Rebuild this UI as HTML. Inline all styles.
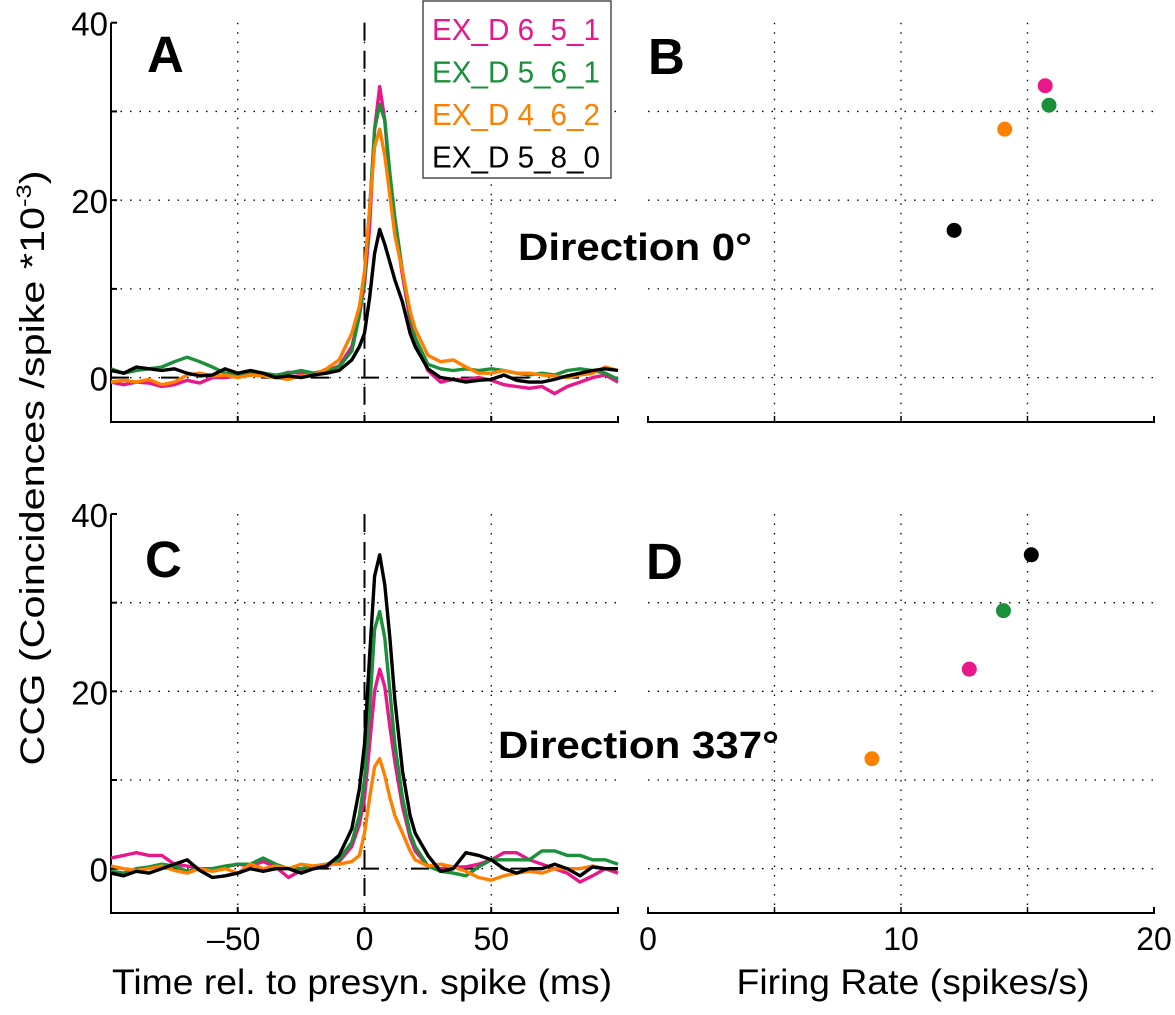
<!DOCTYPE html>
<html><head><meta charset="utf-8"><style>
body{margin:0;background:#fff}
svg{display:block;font-family:"Liberation Sans",Arial,sans-serif}
</style></head><body>
<svg id="fig" width="1175" height="1015" viewBox="0 0 1175 1015" xmlns="http://www.w3.org/2000/svg"></svg>
<script>
const times=[-100,-95,-90,-85,-80,-75,-70,-65,-60,-55,-50,-45,-40,-35,-30,-25,-20,-15,-10,-5,-2,0,2,4,6,8,10,12,15,18,20,25,30,35,40,45,50,55,60,65,70,75,80,85,90,95,100];
const seriesNames=["EX_D 6_5_1","EX_D 5_6_1","EX_D 4_6_2","EX_D 5_8_0"];
const seriesColors=["#e8178a","#1b8f3a","#ff8000","#000000"];
const aPink=[-0.5,-0.8,-0.5,-0.6,-1,-0.8,-0.3,-0.6,0,0,0.2,0.3,0.5,0.2,0.6,0.5,0.5,0.8,1.3,3.5,7,10.5,17,28,32.8,29,22,17,11.5,6.5,4.2,0.8,-0.5,-0.2,-0.2,0,-0.3,-0.8,-1,-1.2,-1,-1.8,-1,-0.5,0,0.3,-0.5];
const aGreen=[1,0.5,0.8,1,1.2,1.8,2.3,1.8,1.2,0.5,0.5,0.5,0.5,0.3,0.5,0.8,0.5,0.8,1.2,3,7,11,19,28,30.8,29,23,18,12,7,4.5,1.5,1,0.8,1,0.8,1,0.8,0.5,0.3,0.5,0.3,0.8,1,0.8,0.5,-0.2];
const aOrange=[-0.5,-0.3,-0.5,-0.2,-0.8,-0.5,0.3,0.5,0.2,0.3,0,0.3,0.2,0,-0.2,0.2,0.3,1,2,5,8,12,19,26,28,25,20.5,16,12,7.5,5.5,2.5,1.8,2,1.2,0.5,0.5,0.8,0.5,0.5,0.3,0.2,0,0.3,0.5,1.2,0.8];
const aBlack=[0.8,0.5,1.2,1,0.8,1,0.5,0.2,0.3,1,0.5,0.8,0.5,0,0.2,0,0.3,0.5,0.8,2,3.5,5,9,14,16.7,15,13,11,8.5,5,3.5,1,0,-0.2,-0.5,-0.3,-0.2,0.3,-0.3,-0.5,-0.5,-0.2,0.2,0.5,0.8,1,0.8];
const cPink=[1.2,1.5,1.8,1.5,1.5,0.5,0.3,0,0,0.2,0.5,0.3,0.8,0.2,-1,-0.2,0,0.3,0.8,2.5,5,8,14,20,22.5,20.5,16,12,7,3.5,2,0.3,0,0.2,0.2,0.5,1,1.8,1.8,1,0.5,0,-0.5,-1.5,-0.8,0,-0.5];
const cGreen=[-0.3,-0.5,0,0.2,0.5,0.3,-0.3,0,0,0.3,0.5,0.5,1.2,0.5,0,0,0.3,0.5,1,3,6,10,18,27,29,26,20,14,8,4,2.5,0.3,-0.3,-0.5,-0.8,0.2,1,1,1,1,2,2,1.5,1.5,1,1,0.5];
const cOrange=[0.3,0,-0.2,0,0.3,-0.2,-0.5,0,-0.3,0,-0.5,0.5,0,0.3,0,0.5,0.3,0.5,0.5,0.8,1.5,4,8,11.5,12.4,10.5,8,6,4,2,1,0.3,0.5,0.2,-0.3,-1,-1.3,-0.8,-0.5,-0.3,-0.5,0,0,0,0.3,0,0];
const cBlack=[-0.5,-0.8,-0.3,-0.5,0,0.5,1,-0.2,-1,-0.8,-0.5,0,-0.3,0,0,-0.5,0,0.3,1.5,4.5,9,14,24,33,35.4,32,26,19,11,6,4,1.5,-0.3,0,1.8,1.5,1,0,-0.5,0,0,0.5,0,-0.8,0.2,0,0];
const bRates=[15.7,15.85,14.1,12.1];
const bPeaks=[32.9,30.7,28.0,16.6];
const dRates=[12.7,14.05,8.85,15.15];
const dPeaks=[22.5,29.1,12.4,35.4];
const yTicks=[0,20,40];
const timeTicks=[-50,0,50];
const timeTickLabels=["\u201350","0","50"];
const rateTicks=[0,10,20];
const rateTickLabels=["0","10","20"];

const NS="http://www.w3.org/2000/svg";
const svg=document.getElementById('fig');
function el(tag,attrs,parent,text){const e=document.createElementNS(NS,tag);for(const k in attrs)e.setAttribute(k,attrs[k]);if(text!==undefined)e.textContent=text;(parent||svg).appendChild(e);return e;}

const panels=[
 {key:'A',x0:111,x1:618,top:22.7,bot:422,kind:'ccg',data:[aPink,aGreen,aOrange,aBlack],dir:"Direction 0\u00b0",dirX:518,dirY:260,dirLen:234,labX:147,labY:72,showX:false},
 {key:'B',x0:648,x1:1154,top:22.7,bot:422,kind:'rate',rx:bRates,ry:bPeaks,labX:648,labY:74,showX:false},
 {key:'C',x0:111,x1:618,top:514,bot:913,kind:'ccg',data:[cPink,cGreen,cOrange,cBlack],dir:"Direction 337\u00b0",dirX:498,dirY:758,dirLen:281,labX:145,labY:577,showX:true},
 {key:'D',x0:648,x1:1154,top:514,bot:913,kind:'rate',rx:dRates,ry:dPeaks,labX:646,labY:579,showX:true}
];
panels.forEach(p=>{
 const g=el('g',{});
 
 
 const yS=v=>p.bot-(v+5)/45*(p.bot-p.top);
 const xS=p.kind==='ccg'?(t=>p.x0+(t+100)/200*(p.x1-p.x0)):(r=>p.x0+r/20*(p.x1-p.x0));
 const vgrid=p.kind==='ccg'?timeTicks:[5,10,15];
 vgrid.forEach(v=>{const l=el('line',{x1:xS(v),x2:xS(v),y1:p.top,y2:p.bot,stroke:'#000','stroke-width':1.3,'stroke-dasharray':'1.5 8'},g);
  });
 [0,10,20,30].forEach(v=>{const l=el('line',{x1:p.x0,x2:p.x1,y1:yS(v),y2:yS(v),stroke:'#000','stroke-width':1.3,'stroke-dasharray':'1.5 8'},g);
  });
 const ax=el('path',{d:`M${p.x0} ${p.bot-6}V${p.bot}H${p.x1}V${p.bot-6}`,fill:'none',stroke:'#000','stroke-width':2},g);
 
 if(p.kind==='ccg'){
  const ya=el('line',{x1:p.x0,x2:p.x0,y1:p.top,y2:p.bot,stroke:'#000','stroke-width':2},g);
  
  yTicks.forEach(v=>{
   const t=el('line',{x1:p.x0,x2:p.x0+6,y1:yS(v),y2:yS(v),stroke:'#000','stroke-width':2},g);
   
   const tl=el('text',{x:p.x0-3,y:yS(v)+13,'font-size':33,'text-anchor':'end'},g,String(v));
   
  });
  [10,30].forEach(v=>{const t=el('line',{x1:p.x0,x2:p.x0+6,y1:yS(v),y2:yS(v),stroke:'#000','stroke-width':2},g);
   });
  timeTicks.forEach(v=>{const t=el('line',{x1:xS(v),x2:xS(v),y1:p.bot-6,y2:p.bot,stroke:'#000','stroke-width':2},g);
   });
  const d1=el('line',{x1:xS(0),x2:xS(0),y1:p.top,y2:p.bot,stroke:'#000','stroke-width':2,'stroke-dasharray':'18 10'},g);
  
  const d2=el('line',{x1:p.x0,x2:p.x1,y1:yS(0),y2:yS(0),stroke:'#000','stroke-width':2,'stroke-dasharray':'18 32'},g);
  
  p.data.forEach((arr,i)=>{
   const pts=times.map((t,j)=>xS(t).toFixed(1)+','+yS(arr[j]).toFixed(1)).join(' ');
   const pl=el('polyline',{points:pts,fill:'none',stroke:seriesColors[i],'stroke-width':3.4,'stroke-linejoin':'round'},g);
   
   
  });
 } else {
  [0,5,10,15,20].forEach(v=>{const t=el('line',{x1:xS(v),x2:xS(v),y1:p.bot-6,y2:p.bot,stroke:'#000','stroke-width':1.5},g);
   });
  p.rx.forEach((r,i)=>{
   const c=el('circle',{cx:xS(r),cy:yS(p.ry[i]),r:7.5,fill:seriesColors[i]},g);
   
   
  });
 }
 if(p.showX){
  const ticks=p.kind==='ccg'?timeTicks:rateTicks, labs=p.kind==='ccg'?timeTickLabels:rateTickLabels;
  ticks.forEach((v,i)=>{const tl=el('text',{x:xS(v)-(labs[i].length===3?4:0),y:p.bot+37,'font-size':32,'text-anchor':'middle'},g,labs[i]);
   });
 }
 const lab=el('text',{x:p.labX,y:p.labY,'font-size':51,'font-weight':'bold'},g,p.key);
 
 if(p.dir){const dt=el('text',{x:p.dirX,y:p.dirY,'font-size':38,'font-weight':'bold',textLength:p.dirLen,lengthAdjust:'spacingAndGlyphs'},svg,p.dir);
  }
});
const lg=el('g',{});


const box=el('rect',{x:423,y:1,width:188,height:177,fill:'#fff',stroke:'#333','stroke-width':1.3},lg);

seriesNames.forEach((n,i)=>{const t=el('text',{x:432,y:40+i*42.5,'font-size':31,fill:seriesColors[i],textLength:168,lengthAdjust:'spacingAndGlyphs'},lg,n);
 });
const yt=el('text',{x:0,y:0,'font-size':34,'text-anchor':'middle',textLength:595,lengthAdjust:'spacingAndGlyphs',transform:'translate(44,468) rotate(-90)'},svg);

yt.innerHTML='CCG (Coincidences /spike *10<tspan font-size="21" dy="-13">-3</tspan><tspan dy="13">)</tspan>';
const xt1=el('text',{x:362,y:994,'font-size':35,'text-anchor':'middle',textLength:500,lengthAdjust:'spacingAndGlyphs'},svg,'Time rel. to presyn. spike (ms)');

const xt2=el('text',{x:913,y:994,'font-size':35,'text-anchor':'middle',textLength:353,lengthAdjust:'spacingAndGlyphs'},svg,'Firing Rate (spikes/s)');

</script>
</body></html>
